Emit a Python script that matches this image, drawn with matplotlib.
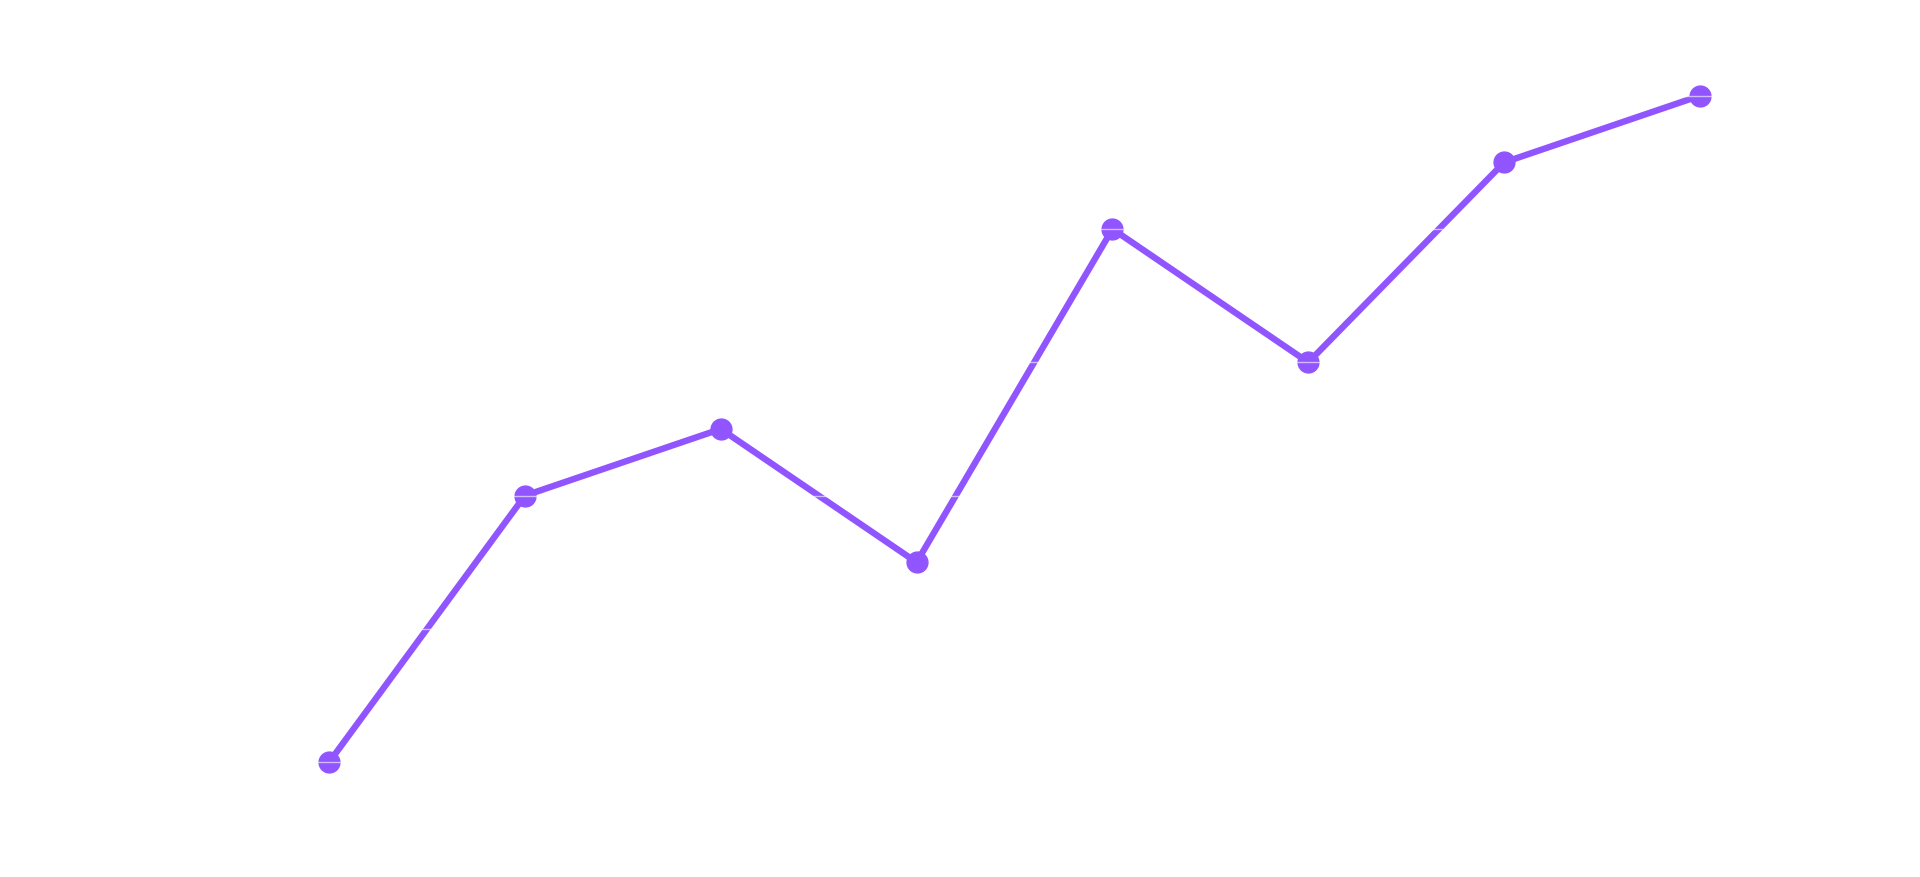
import matplotlib.pyplot as plt

# %% data
categories = [0, 1, 2, 3, 4, 5, 6, 7]
values = [0, 40, 50, 30, 80, 60, 90, 100]
y_ticks = [0, 20, 40, 60, 80, 100]

# %% figure
fig = plt.figure(figsize=(19.2, 8.78), dpi=100)
ax = fig.add_axes([231.1 / 1920, 114.7 / 878, 1566.9 / 1920, 666.6 / 878])

ax.plot(categories, values, color="#9155ff", linewidth=4.6,
        marker="o", markersize=15, clip_on=False, zorder=2)

ax.set_xlim(categories[0] - 0.5, categories[-1] + 0.5)
ax.set_ylim(y_ticks[0], y_ticks[-1])
ax.set_yticks(y_ticks)
ax.set_xticks([])

# white grid drawn over the line
ax.set_axisbelow(False)
ax.yaxis.grid(True, color="white", linewidth=1.0, alpha=0.6, zorder=3)
for gl in ax.get_ygridlines():
    gl.set_clip_on(False)
ax.tick_params(left=False, labelleft=False, bottom=False, labelbottom=False)
for s in ax.spines.values():
    s.set_visible(False)

fig.savefig("out.png", dpi=100, facecolor="white")
